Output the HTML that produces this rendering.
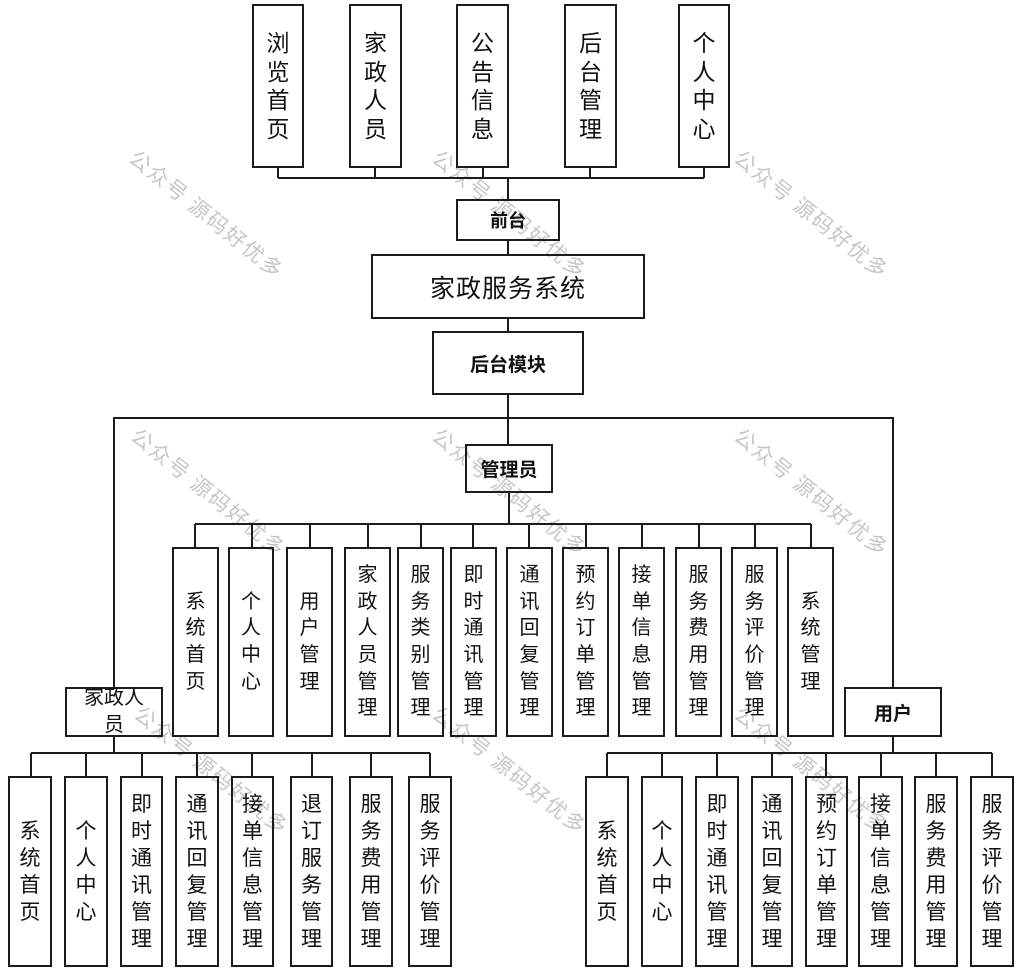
<!DOCTYPE html>
<html><head><meta charset="utf-8"><style>
html,body{margin:0;padding:0;background:#fff;}
#c{position:relative;width:1024px;height:980px;overflow:hidden;background:#fff;font-family:"Liberation Sans","Noto Sans CJK SC",sans-serif;color:#111;}
svg{position:absolute;left:0;top:0;}
.b{position:absolute;display:flex;align-items:center;justify-content:center;text-align:center;box-sizing:border-box;}
.t{font-size:23px;line-height:28.5px;}
.a{font-size:20px;line-height:26.7px;}
.l{font-size:21px;line-height:27px;}
.wm{position:absolute;font-size:21px;letter-spacing:2px;color:#c6c6c6;white-space:nowrap;transform:translate(-50%,-50%) rotate(38.7deg);font-family:"Noto Sans CJK SC",sans-serif;}
</style></head><body><div id="c">
<div class="wm" style="left:207px;top:-63px">公众号 源码好优多</div>
<div class="wm" style="left:510px;top:-63px">公众号 源码好优多</div>
<div class="wm" style="left:812px;top:-63px">公众号 源码好优多</div>
<div class="wm" style="left:207px;top:214px">公众号 源码好优多</div>
<div class="wm" style="left:510px;top:214px">公众号 源码好优多</div>
<div class="wm" style="left:812px;top:214px">公众号 源码好优多</div>
<div class="wm" style="left:209px;top:492px">公众号 源码好优多</div>
<div class="wm" style="left:510px;top:492px">公众号 源码好优多</div>
<div class="wm" style="left:812px;top:492px">公众号 源码好优多</div>
<div class="wm" style="left:212px;top:770px">公众号 源码好优多</div>
<div class="wm" style="left:510px;top:770px">公众号 源码好优多</div>
<div class="wm" style="left:812px;top:770px">公众号 源码好优多</div>
<svg width="1024" height="980" viewBox="0 0 1024 980" fill="none" stroke="#1c1c1c" stroke-width="2">
<!-- top boxes -->
<rect x="253" y="5" width="50" height="162"/>
<rect x="350" y="5" width="51" height="162"/>
<rect x="457" y="5" width="51" height="162"/>
<rect x="565" y="5" width="51" height="162"/>
<rect x="679" y="5" width="50" height="162"/>
<path d="M278 167V178M375 167V178M483 167V178M590 167V178M704 167V178M278 178H704M508 178V200"/>
<rect x="457" y="200" width="102" height="40"/>
<path d="M508 240V255"/>
<rect x="372" y="255" width="272" height="63"/>
<path d="M508 318V332"/>
<rect x="433" y="332" width="150" height="62"/>
<path d="M508 394V445"/>
<path d="M114 688V418H893V688"/>
<rect x="466" y="445" width="86" height="47"/>
<path d="M509 492V524M195 524H811"/>
<path d="M195 524V548M252 524V548M310 524V548M368 524V548M421 524V548M473 524V548M529 524V548M586 524V548M642 524V548M699 524V548M755 524V548M811 524V548"/>
<rect x="173" y="548" width="45" height="188"/>
<rect x="229" y="548" width="44" height="188"/>
<rect x="287" y="548" width="45" height="188"/>
<rect x="345" y="548" width="45" height="188"/>
<rect x="398" y="548" width="45" height="188"/>
<rect x="451" y="548" width="45" height="188"/>
<rect x="507" y="548" width="45" height="188"/>
<rect x="563" y="548" width="45" height="188"/>
<rect x="619" y="548" width="45" height="188"/>
<rect x="676" y="548" width="45" height="188"/>
<rect x="732" y="548" width="45" height="188"/>
<rect x="788" y="548" width="45" height="188"/>
<!-- left group -->
<rect x="66" y="688" width="96" height="48"/>
<path d="M114 736V753M31 753H430"/>
<path d="M31 753V777M86 753V777M142 753V777M197 753V777M252 753V777M312 753V777M371 753V777M430 753V777"/>
<rect x="9" y="777" width="42" height="189"/>
<rect x="65" y="777" width="42" height="189"/>
<rect x="121" y="777" width="41" height="189"/>
<rect x="176" y="777" width="42" height="189"/>
<rect x="232" y="777" width="41" height="189"/>
<rect x="291" y="777" width="41" height="189"/>
<rect x="350" y="777" width="42" height="189"/>
<rect x="409" y="777" width="42" height="189"/>
<!-- right group -->
<rect x="845" y="688" width="96" height="48"/>
<path d="M893 736V753M607 753H992"/>
<path d="M607 753V777M662 753V777M717 753V777M772 753V777M826 753V777M881 753V777M936 753V777M992 753V777"/>
<rect x="586" y="777" width="42" height="189"/>
<rect x="642" y="777" width="40" height="189"/>
<rect x="696" y="777" width="42" height="189"/>
<rect x="752" y="777" width="40" height="189"/>
<rect x="806" y="777" width="41" height="189"/>
<rect x="859" y="777" width="43" height="189"/>
<rect x="915" y="777" width="42" height="189"/>
<rect x="971" y="777" width="42" height="189"/>
</svg>

<!-- top labels -->
<div class="b t" style="left:253px;top:5px;width:50px;height:162px">浏<br>览<br>首<br>页</div>
<div class="b t" style="left:350px;top:5px;width:51px;height:162px">家<br>政<br>人<br>员</div>
<div class="b t" style="left:457px;top:5px;width:51px;height:162px">公<br>告<br>信<br>息</div>
<div class="b t" style="left:565px;top:5px;width:51px;height:162px">后<br>台<br>管<br>理</div>
<div class="b t" style="left:679px;top:5px;width:50px;height:162px">个<br>人<br>中<br>心</div>

<div class="b" style="left:457px;top:200px;width:102px;height:40px;font-size:18px;font-weight:bold;">前台</div>
<div class="b" style="left:372px;top:255px;width:272px;height:63px;font-size:25px;letter-spacing:1px;">家政服务系统</div>
<div class="b" style="left:433px;top:332px;width:150px;height:62px;font-size:19px;font-weight:bold;">后台模块</div>
<div class="b" style="left:466px;top:445px;width:86px;height:47px;font-size:19px;font-weight:bold;">管理员</div>

<!-- admin labels -->
<div class="b a" style="left:173px;top:548px;width:45px;height:188px">系<br>统<br>首<br>页</div>
<div class="b a" style="left:229px;top:548px;width:44px;height:188px">个<br>人<br>中<br>心</div>
<div class="b a" style="left:287px;top:548px;width:45px;height:188px">用<br>户<br>管<br>理</div>
<div class="b a" style="left:345px;top:548px;width:45px;height:188px">家<br>政<br>人<br>员<br>管<br>理</div>
<div class="b a" style="left:398px;top:548px;width:45px;height:188px">服<br>务<br>类<br>别<br>管<br>理</div>
<div class="b a" style="left:451px;top:548px;width:45px;height:188px">即<br>时<br>通<br>讯<br>管<br>理</div>
<div class="b a" style="left:507px;top:548px;width:45px;height:188px">通<br>讯<br>回<br>复<br>管<br>理</div>
<div class="b a" style="left:563px;top:548px;width:45px;height:188px">预<br>约<br>订<br>单<br>管<br>理</div>
<div class="b a" style="left:619px;top:548px;width:45px;height:188px">接<br>单<br>信<br>息<br>管<br>理</div>
<div class="b a" style="left:676px;top:548px;width:45px;height:188px">服<br>务<br>费<br>用<br>管<br>理</div>
<div class="b a" style="left:732px;top:548px;width:45px;height:188px">服<br>务<br>评<br>价<br>管<br>理</div>
<div class="b a" style="left:788px;top:548px;width:45px;height:188px">系<br>统<br>管<br>理</div>

<div class="b" style="left:66px;top:688px;width:96px;height:48px;font-size:20px;line-height:27px;padding:0 16px;">家政人员</div>
<div class="b" style="left:845px;top:688px;width:96px;height:48px;font-size:19px;font-weight:bold;">用户</div>

<!-- left labels -->
<div class="b l" style="left:9px;top:777px;width:42px;height:189px">系<br>统<br>首<br>页</div>
<div class="b l" style="left:65px;top:777px;width:42px;height:189px">个<br>人<br>中<br>心</div>
<div class="b l" style="left:121px;top:777px;width:41px;height:189px">即<br>时<br>通<br>讯<br>管<br>理</div>
<div class="b l" style="left:176px;top:777px;width:42px;height:189px">通<br>讯<br>回<br>复<br>管<br>理</div>
<div class="b l" style="left:232px;top:777px;width:41px;height:189px">接<br>单<br>信<br>息<br>管<br>理</div>
<div class="b l" style="left:291px;top:777px;width:41px;height:189px">退<br>订<br>服<br>务<br>管<br>理</div>
<div class="b l" style="left:350px;top:777px;width:42px;height:189px">服<br>务<br>费<br>用<br>管<br>理</div>
<div class="b l" style="left:409px;top:777px;width:42px;height:189px">服<br>务<br>评<br>价<br>管<br>理</div>

<!-- right labels -->
<div class="b l" style="left:586px;top:777px;width:42px;height:189px">系<br>统<br>首<br>页</div>
<div class="b l" style="left:642px;top:777px;width:40px;height:189px">个<br>人<br>中<br>心</div>
<div class="b l" style="left:696px;top:777px;width:42px;height:189px">即<br>时<br>通<br>讯<br>管<br>理</div>
<div class="b l" style="left:752px;top:777px;width:40px;height:189px">通<br>讯<br>回<br>复<br>管<br>理</div>
<div class="b l" style="left:806px;top:777px;width:41px;height:189px">预<br>约<br>订<br>单<br>管<br>理</div>
<div class="b l" style="left:859px;top:777px;width:43px;height:189px">接<br>单<br>信<br>息<br>管<br>理</div>
<div class="b l" style="left:915px;top:777px;width:42px;height:189px">服<br>务<br>费<br>用<br>管<br>理</div>
<div class="b l" style="left:971px;top:777px;width:42px;height:189px">服<br>务<br>评<br>价<br>管<br>理</div>
</div></body></html>
